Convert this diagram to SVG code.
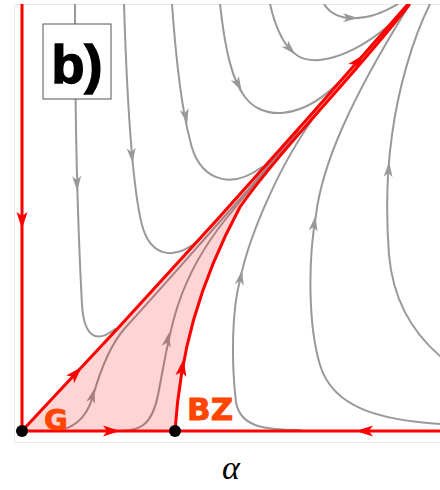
<svg xmlns="http://www.w3.org/2000/svg" xmlns:xlink="http://www.w3.org/1999/xlink" width="440" height="490" viewBox="0 0 440 490">
<style>
.g{fill:none;stroke:#999;stroke-width:2;stroke-linecap:round}
.r{fill:none;stroke:#ff0000;stroke-width:3;stroke-linecap:round;stroke-linejoin:round}
.ga{fill:#999}
.ra{fill:#ff0000}
.lab{font-family:"DejaVu Sans",sans-serif;font-weight:bold;fill:#ff4500;stroke:#ff4500;stroke-width:0.8}
</style>
<defs>
<path id="ahg" d="M6,0 L-9,-4.5 L-5,0 L-9,4.5 Z"/>
<path id="ahr" d="M7,0 L-10,-5.5 L-6,0 L-10,5.5 Z"/>
<clipPath id="plot"><rect x="14" y="4" width="426" height="439"/></clipPath>
</defs>
<rect id="frame" x="14.5" y="4.5" width="440" height="438" fill="#fff" stroke="#e8e8e8" stroke-width="1"/>
<g id="connectors" clip-path="url(#plot)">
<g id="gray-trajectories">
<path class="g" d="M75,4 C75,150 79,250 82,305 C84,335 95,345 115,329"/>
<path class="g" d="M124,4 C127,100 133,190 142,225 C150,255 172,262 198,241"/>
<path class="g" d="M172,4 C176,60 182,110 190,140 C198,178 228,192 262,167"/>
<path class="g" d="M220,4 C225,50 232,80 245,97 C260,118 300,125 345,76"/>
<path class="g" d="M270,4 C276,30 285,48 298,56 C315,66 350,58 388,26"/>
<path class="g" d="M324,4 C335,22 365,24 398,4"/>
<path class="g" d="M300,430 C262,430 240,426 236,402 C231,360 232,310 240,280 C248,240 278,165 318,112"/>
<path class="g" d="M440,424 C380,420 333,408 320,365 C308,325 308,260 316,215 C322,165 350,100 410,4"/>
<path class="g" d="M440,356 C412,332 393,300 389,255 C386,215 387,170 392,135 C398,90 412,40 430,4"/>
<path class="g" d="M50,431 C68,431 85,424 93,396 C101,368 110,345 125,328 C160,290 205,238 248,190 L298,131"/>
<path class="g" d="M120,431 C140,431 152,425 158,395 C164,365 168,335 178,305 C188,275 205,245 225,220 L298,131"/>
<use xlink:href="#ahg" class="ga" transform="translate(77,185) rotate(88)"/>
<use xlink:href="#ahg" class="ga" transform="translate(132,157) rotate(85)"/>
<use xlink:href="#ahg" class="ga" transform="translate(186,118) rotate(78)"/>
<use xlink:href="#ahg" class="ga" transform="translate(239,86) rotate(62)"/>
<use xlink:href="#ahg" class="ga" transform="translate(291,50) rotate(46)"/>
<use xlink:href="#ahg" class="ga" transform="translate(352,18) rotate(1)"/>
<use xlink:href="#ahg" class="ga" transform="translate(241,276) rotate(-79)"/>
<use xlink:href="#ahg" class="ga" transform="translate(314.5,222) rotate(-81)"/>
<use xlink:href="#ahg" class="ga" transform="translate(388.7,168) rotate(-86)"/>
<use xlink:href="#ahg" class="ga" transform="translate(93,394) rotate(-75)"/>
<use xlink:href="#ahg" class="ga" transform="translate(168,338) rotate(-78)"/>
</g>
<path id="basin" d="M22,431 L175,431 C180,355 198,285 240,207 C280,150 352,78 409,5 L408,4 Q219,222 22,431 Z" fill="#ff0000" fill-opacity="0.17"/>
<g id="red-separatrices">
<path class="r" d="M22,4 L22,431"/>
<path class="r" d="M22,431 L440,431"/>
<path class="r" d="M22,431 Q219,222 408,4"/>
<path class="r" d="M175,431 C180,355 198,285 240,207 C280,150 352,78 409,5"/>
<use xlink:href="#ahr" class="ra" transform="translate(22,222) rotate(90)"/>
<use xlink:href="#ahr" class="ra" transform="translate(77,372) rotate(-47)"/>
<use xlink:href="#ahr" class="ra" transform="translate(359,60) rotate(-49)"/>
<use xlink:href="#ahr" class="ra" transform="translate(182.5,366) rotate(-81)"/>
<use xlink:href="#ahr" class="ra" transform="translate(113,431)"/>
<use xlink:href="#ahr" class="ra" transform="translate(363,431) rotate(180)"/>
</g>
</g>
<g id="node-G">
<circle cx="22" cy="431" r="6" fill="#000"/>
<text class="lab" x="44" y="430" font-size="29">G</text>
</g>
<g id="node-BZ">
<circle cx="175" cy="431" r="6" fill="#000"/>
<text class="lab" x="187" y="420" font-size="31">BZ</text>
</g>
<g id="panel-label">
<rect x="43" y="24" width="68" height="75" fill="#fff" stroke="#555" stroke-width="1"/>
<text x="77" y="83" text-anchor="middle" font-family="Liberation Sans, Arial, sans-serif" font-weight="bold" font-size="54" fill="#000" stroke="#000" stroke-width="1.5">b)</text>
</g>
<text id="axis-label" x="222" y="479" font-family="Liberation Serif, serif" font-style="italic" font-size="34" fill="#000">α</text>
</svg>
